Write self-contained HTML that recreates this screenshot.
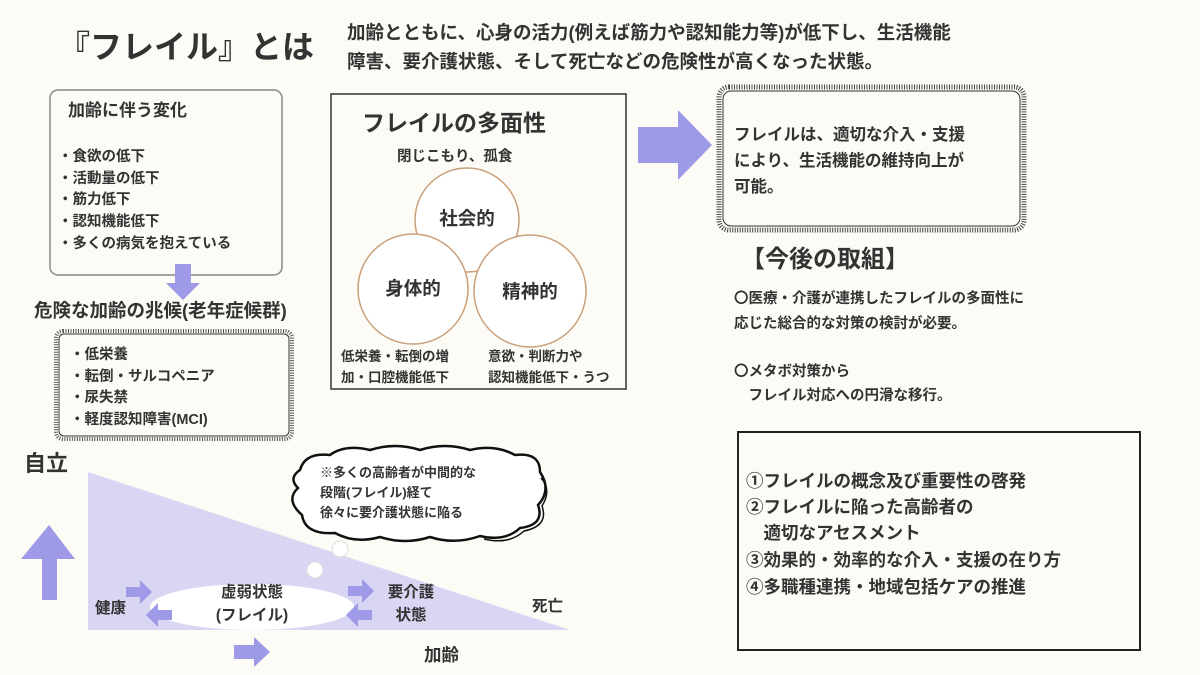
<!DOCTYPE html>
<html><head><meta charset="utf-8"><style>
html,body{margin:0;padding:0;background:#fdfbf5;}
svg{display:block;font-family:"Liberation Sans","Noto Sans CJK JP",sans-serif;font-weight:bold;fill:#333;}
</style></head><body>
<svg width="1200" height="675" viewBox="0 0 1200 675" xmlns="http://www.w3.org/2000/svg">
<rect width="1200" height="675" fill="#fdfbf5"/>
<text x="58" y="58" font-size="32" fill="#333">『フレイル』とは</text>
<text x="347" y="39" font-size="18.5" fill="#333">加齢とともに、心身の活力(例えば筋力や認知能力等)が低下し、生活機能</text>
<text x="347" y="68" font-size="18.5" fill="#333">障害、要介護状態、そして死亡などの危険性が高くなった状態。</text>

<rect x="50" y="90" width="232" height="185" rx="8" fill="#fdfbf5" stroke="#888" stroke-width="1.5"/>
<text x="68" y="116" font-size="17">加齢に伴う変化</text>
<g font-size="14.5">
<text x="58" y="161">・食欲の低下</text>
<text x="58" y="183">・活動量の低下</text>
<text x="58" y="204">・筋力低下</text>
<text x="58" y="226">・認知機能低下</text>
<text x="58" y="248">・多くの病気を抱えている</text>
</g>
<polygon points="175,264 191,264 191,283 200,283 183,300 166,283 175,283" fill="#9f9ae8"/>
<text x="34" y="317" font-size="18.5">危険な加齢の兆候(老年症候群)</text>

<rect x="56" y="331" width="236" height="108" rx="7" fill="none" stroke="#555" stroke-width="4" stroke-dasharray="1 1.5"/>
<rect x="59" y="334" width="230" height="102" rx="5" fill="none" stroke="#333" stroke-width="1"/>
<g font-size="14.5">
<text x="70" y="359">・低栄養</text>
<text x="70" y="381">・転倒・サルコペニア</text>
<text x="70" y="402">・尿失禁</text>
<text x="70" y="424">・軽度認知障害(MCI)</text>
</g>

<rect x="331" y="94" width="295" height="295" fill="#fdfbf5" stroke="#333" stroke-width="1.5"/>
<text x="362" y="131" font-size="23">フレイルの多面性</text>
<text x="397" y="161" font-size="14.5">閉じこもり、孤食</text>
<circle cx="467" cy="220" r="52" fill="#fff" stroke="#c9a07a" stroke-width="1.5"/>
<circle cx="413" cy="289" r="55" fill="#fff" stroke="#c9a07a" stroke-width="1.5"/>
<circle cx="530" cy="291" r="56" fill="#fff" stroke="#c9a07a" stroke-width="1.5"/>
<text x="467" y="225" font-size="18.5" text-anchor="middle">社会的</text>
<text x="413" y="295" font-size="18.5" text-anchor="middle">身体的</text>
<text x="530" y="298" font-size="18.5" text-anchor="middle">精神的</text>
<g font-size="13.5">
<text x="341" y="361">低栄養・転倒の増</text>
<text x="341" y="382">加・口腔機能低下</text>
<text x="488" y="361">意欲・判断力や</text>
<text x="488" y="382">認知機能低下・うつ</text>
</g>

<polygon points="638,127 678,127 678,110 712,145 678,180 678,163 638,163" fill="#9f9ae8"/>

<rect x="719" y="87" width="305" height="143" rx="10" fill="none" stroke="#444" stroke-width="5" stroke-dasharray="1 1.5"/>
<rect x="723" y="91" width="297" height="135" rx="8" fill="none" stroke="#333" stroke-width="1"/>
<g font-size="16.5">
<text x="734" y="140">フレイルは、適切な介入・支援</text>
<text x="734" y="166">により、生活機能の維持向上が</text>
<text x="734" y="192">可能。</text>
</g>

<text x="741" y="267" font-size="24">【今後の取組】</text>
<g font-size="14.5">
<text x="734" y="303">〇医療・介護が連携したフレイルの多面性に</text>
<text x="734" y="328">応じた総合的な対策の検討が必要。</text>
<text x="734" y="376">〇メタボ対策から</text>
<text x="734" y="400">　フレイル対応への円滑な移行。</text>
</g>

<rect x="738" y="432" width="402" height="218" fill="#fdfbf5" stroke="#222" stroke-width="2"/>
<g font-size="17.5">
<text x="746" y="487">①フレイルの概念及び重要性の啓発</text>
<text x="746" y="513">②フレイルに陥った高齢者の</text>
<text x="746" y="539">　適切なアセスメント</text>
<text x="746" y="566">③効果的・効率的な介入・支援の在り方</text>
<text x="746" y="593">④多職種連携・地域包括ケアの推進</text>
</g>

<polygon points="88,472 88,630 570,630" fill="#d9d6f3"/>
<ellipse cx="252" cy="607" rx="102" ry="23" fill="#fff"/>
<text x="24" y="471" font-size="22">自立</text>
<polygon points="42,557 57,557 57,600 42,600" fill="#9f9ae8"/>
<polygon points="21,559 49,525 75,559" fill="#9f9ae8"/>
<text x="95" y="613" font-size="15.5">健康</text>
<text x="252" y="597" font-size="15.5" text-anchor="middle">虚弱状態</text>
<text x="252" y="620" font-size="15.5" text-anchor="middle">(フレイル)</text>
<text x="411" y="597" font-size="15.5" text-anchor="middle">要介護</text>
<text x="411" y="620" font-size="15.5" text-anchor="middle">状態</text>
<text x="532" y="611" font-size="15.5">死亡</text>
<text x="424" y="661" font-size="17.5">加齢</text>
<g fill="#9f9ae8">
<polygon points="126,587 140,587 140,580 152,592 140,604 140,597 126,597"/>
<polygon points="172,610 158,610 158,603 146,615 158,627 158,620 172,620"/>
<polygon points="348,586 362,586 362,579 374,591 362,603 362,596 348,596"/>
<polygon points="372,610 358,610 358,603 346,615 358,627 358,620 372,620"/>
<polygon points="234,645 254,645 254,637 270,652 254,667 254,659 234,659"/>
</g>
<circle cx="315" cy="570" r="8" fill="#fff" stroke="#ddd"/>
<circle cx="340" cy="549" r="8" fill="#fff" stroke="#ddd"/>
<path d="M300,470 Q305,452 330,455 Q345,444 370,450 Q395,442 420,450 Q445,442 470,450 Q495,444 515,455 Q540,452 540,472 Q552,490 538,505 Q545,525 520,528 Q505,542 480,536 Q455,545 430,537 Q405,545 380,537 Q355,544 335,533 Q305,535 302,515 Q285,500 298,488 Q288,478 300,470 Z" fill="#fff" stroke="#111" stroke-width="2.5"/>
<path d="M541,478 Q552,490 542,506 Q549,526 524,531 Q509,545 484,539" fill="none" stroke="#111" stroke-width="1.5"/>
<g font-size="13">
<text x="320" y="477">※多くの高齢者が中間的な</text>
<text x="320" y="497">段階(フレイル)経て</text>
<text x="320" y="517">徐々に要介護状態に陥る</text>
</g>
</svg>
</body></html>
